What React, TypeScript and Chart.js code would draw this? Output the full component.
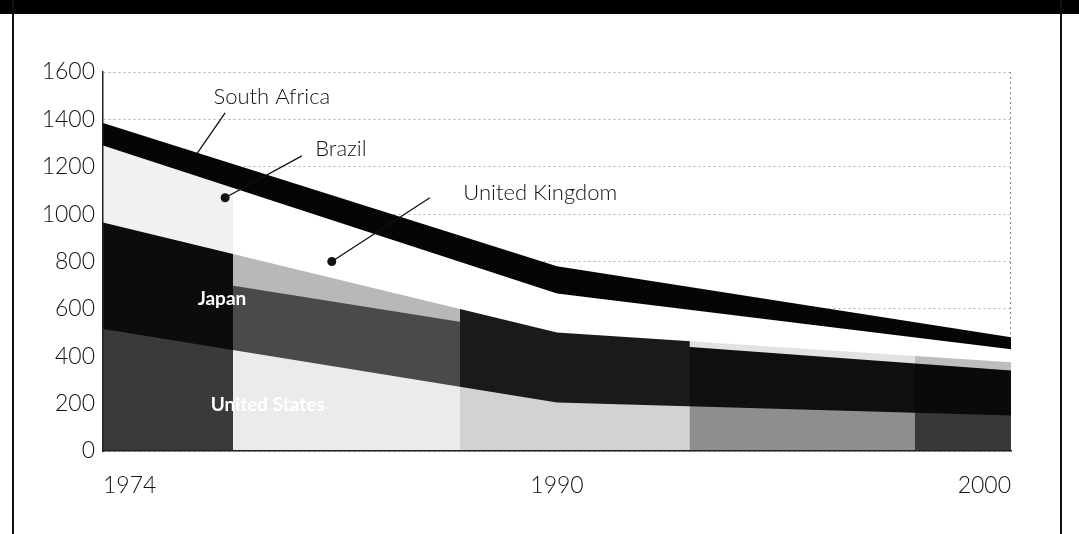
import React, { useEffect, useRef } from "react";
import { Chart, registerables } from "chart.js";

Chart.register(...registerables);

const years = ["1974", "1990", "2000"];
const unitedStates = [515, 205, 150];
const japan = [270, 275, 190];
const unitedKingdom = [180, 20, 35];
const brazil = [325, 165, 55];
const southAfrica = [95, 115, 50];
const yTicks = [0, 200, 400, 600, 800, 1000, 1200, 1400, 1600];

// scanned-halftone look: vertical strips of different tone per layer
const stripStops = [0, 0.143, 0.393, 0.646, 0.894, 1];
const usTones = ["#3a3a3a", "#ebebeb", "#d2d2d2", "#8e8e8e", "#383838"];
const japanTones = ["#0c0c0c", "#4a4a4a", "#1a1a1a", "#0f0f0f", "#0a0a0a"];
const ukTones = ["#0c0c0c", "#b8b8b8", "#1a1a1a", "#e2e2e2", "#bdbdbd"];
const brazilTones = ["#f1f1f1", "#ffffff", "#ffffff", "#ffffff", "#ffffff"];
const saTones = ["#050505", "#050505", "#050505", "#050505", "#050505"];

const FONT = "Lato, 'Open Sans', sans-serif";

const annotations = [
  { text: "South Africa", at: [0.372, 1495], line: [[0.269, 1427], [0.207, 1255]], dot: false, white: false },
  { text: "Brazil", at: [0.524, 1276], line: [[0.438, 1246], [0.269, 1069]], dot: true, white: false },
  { text: "United Kingdom", at: [0.963, 1091], line: [[0.72, 1069], [0.504, 800]], dot: true, white: false },
  { text: "Japan", at: [0.262, 644], line: null, dot: false, white: true },
  { text: "United States", at: [0.363, 194], line: null, dot: false, white: true },
];

function strips(tones: string[]) {
  return (ctx: any) => {
    const chart = ctx.chart;
    const ca = chart.chartArea;
    if (!ca) return tones[0];
    const g = chart.ctx.createLinearGradient(ca.left, 0, ca.right, 0);
    for (let i = 0; i < tones.length; i++) {
      g.addColorStop(stripStops[i], tones[i]);
      g.addColorStop(Math.min(1, stripStops[i + 1] - 0.0001), tones[i]);
    }
    return g;
  };
}

const annotationPlugin = {
  id: "annots",
  beforeDatasetsDraw(chart: any) {
    const { ctx, chartArea } = chart;
    ctx.save();
    ctx.strokeStyle = "#8a8a8a";
    ctx.lineWidth = 1;
    ctx.setLineDash([2, 3]);
    ctx.beginPath();
    ctx.moveTo(chartArea.right - 0.5, chartArea.top);
    ctx.lineTo(chartArea.right - 0.5, chartArea.bottom);
    ctx.stroke();
    ctx.restore();
  },
  afterDatasetsDraw(chart: any) {
    const { ctx } = chart;
    const xs = chart.scales.x;
    const ys = chart.scales.y;
    ctx.save();
    for (const a of annotations) {
      if (a.line) {
        const [p0, p1] = a.line;
        ctx.strokeStyle = "#111";
        ctx.lineWidth = 1.3;
        ctx.beginPath();
        ctx.moveTo(xs.getPixelForValue(p0[0]), ys.getPixelForValue(p0[1]));
        ctx.lineTo(xs.getPixelForValue(p1[0]), ys.getPixelForValue(p1[1]));
        ctx.stroke();
        if (a.dot) {
          ctx.fillStyle = "#111";
          ctx.beginPath();
          ctx.arc(xs.getPixelForValue(p1[0]), ys.getPixelForValue(p1[1]), 4.5, 0, Math.PI * 2);
          ctx.fill();
        }
      }
      ctx.font = a.white ? `700 19px ${FONT}` : `300 22px ${FONT}`;
      ctx.fillStyle = a.white ? "#ffffff" : "#111";
      ctx.textAlign = "center";
      ctx.textBaseline = "middle";
      ctx.fillText(a.text, xs.getPixelForValue(a.at[0]), ys.getPixelForValue(a.at[1]));
    }
    ctx.restore();
  },
};

export default function App() {
  const ref = useRef<HTMLCanvasElement | null>(null);
  useEffect(() => {
    if (!ref.current) return;
    const series = [
      { label: "United States", data: unitedStates, tones: usTones },
      { label: "Japan", data: japan, tones: japanTones },
      { label: "United Kingdom", data: unitedKingdom, tones: ukTones },
      { label: "Brazil", data: brazil, tones: brazilTones },
      { label: "South Africa", data: southAfrica, tones: saTones },
    ];
    const chart = new Chart(ref.current, {
      type: "line",
      data: {
        labels: years,
        datasets: series.map((s) => ({
          label: s.label,
          data: s.data,
          fill: "origin",
          backgroundColor: strips(s.tones),
          borderColor: "rgba(0,0,0,0)",
          borderWidth: 0,
          pointRadius: 0,
          tension: 0,
        })),
      },
      options: {
        animation: false,
        responsive: false,
        events: [],
        layout: { padding: { left: 0, top: 72, right: 68, bottom: 0 } },
        plugins: { legend: { display: false }, tooltip: { enabled: false } },
        scales: {
          x: {
            type: "category",
            offset: false,
            grid: { display: false, drawTicks: false },
            border: { display: true, color: "#222", width: 1.5, z: 1 },
            ticks: {
              align: "inner",
              padding: 21,
              color: "#111",
              font: { family: FONT, size: 23, weight: "300" },
              maxRotation: 0,
            },
            afterFit: (s: any) => {
              s.height = 83;
            },
          },
          y: {
            stacked: true,
            min: 0,
            max: 1600,
            afterBuildTicks: (s: any) => {
              s.ticks = yTicks.map((v) => ({ value: v }));
            },
            grid: { color: "#b0b0b0", lineWidth: 1, drawTicks: false },
            border: { display: true, color: "#222", width: 1.5, dash: [2, 3], z: 1 },
            ticks: {
              padding: 8,
              color: "#111",
              font: { family: FONT, size: 23, weight: "300" },
              callback: (v: any) => String(v),
            },
            afterFit: (s: any) => {
              s.width = 103;
            },
          },
        },
      },
      plugins: [annotationPlugin],
    });
    return () => chart.destroy();
  }, []);

  return (
    <div style={{ position: "fixed", left: 0, top: 0, width: 1079, height: 534, background: "#fff", overflow: "hidden" }}>
      <canvas ref={ref} width={1079} height={534} style={{ position: "absolute", left: 0, top: 0 }} />
      <div style={{ position: "absolute", left: 0, top: 0, width: 1079, height: 14, background: "#000" }} />
      <div style={{ position: "absolute", left: 12, top: 0, width: 2, height: 534, background: "#111" }} />
      <div style={{ position: "absolute", left: 1060, top: 0, width: 2, height: 534, background: "#111" }} />
    </div>
  );
}
